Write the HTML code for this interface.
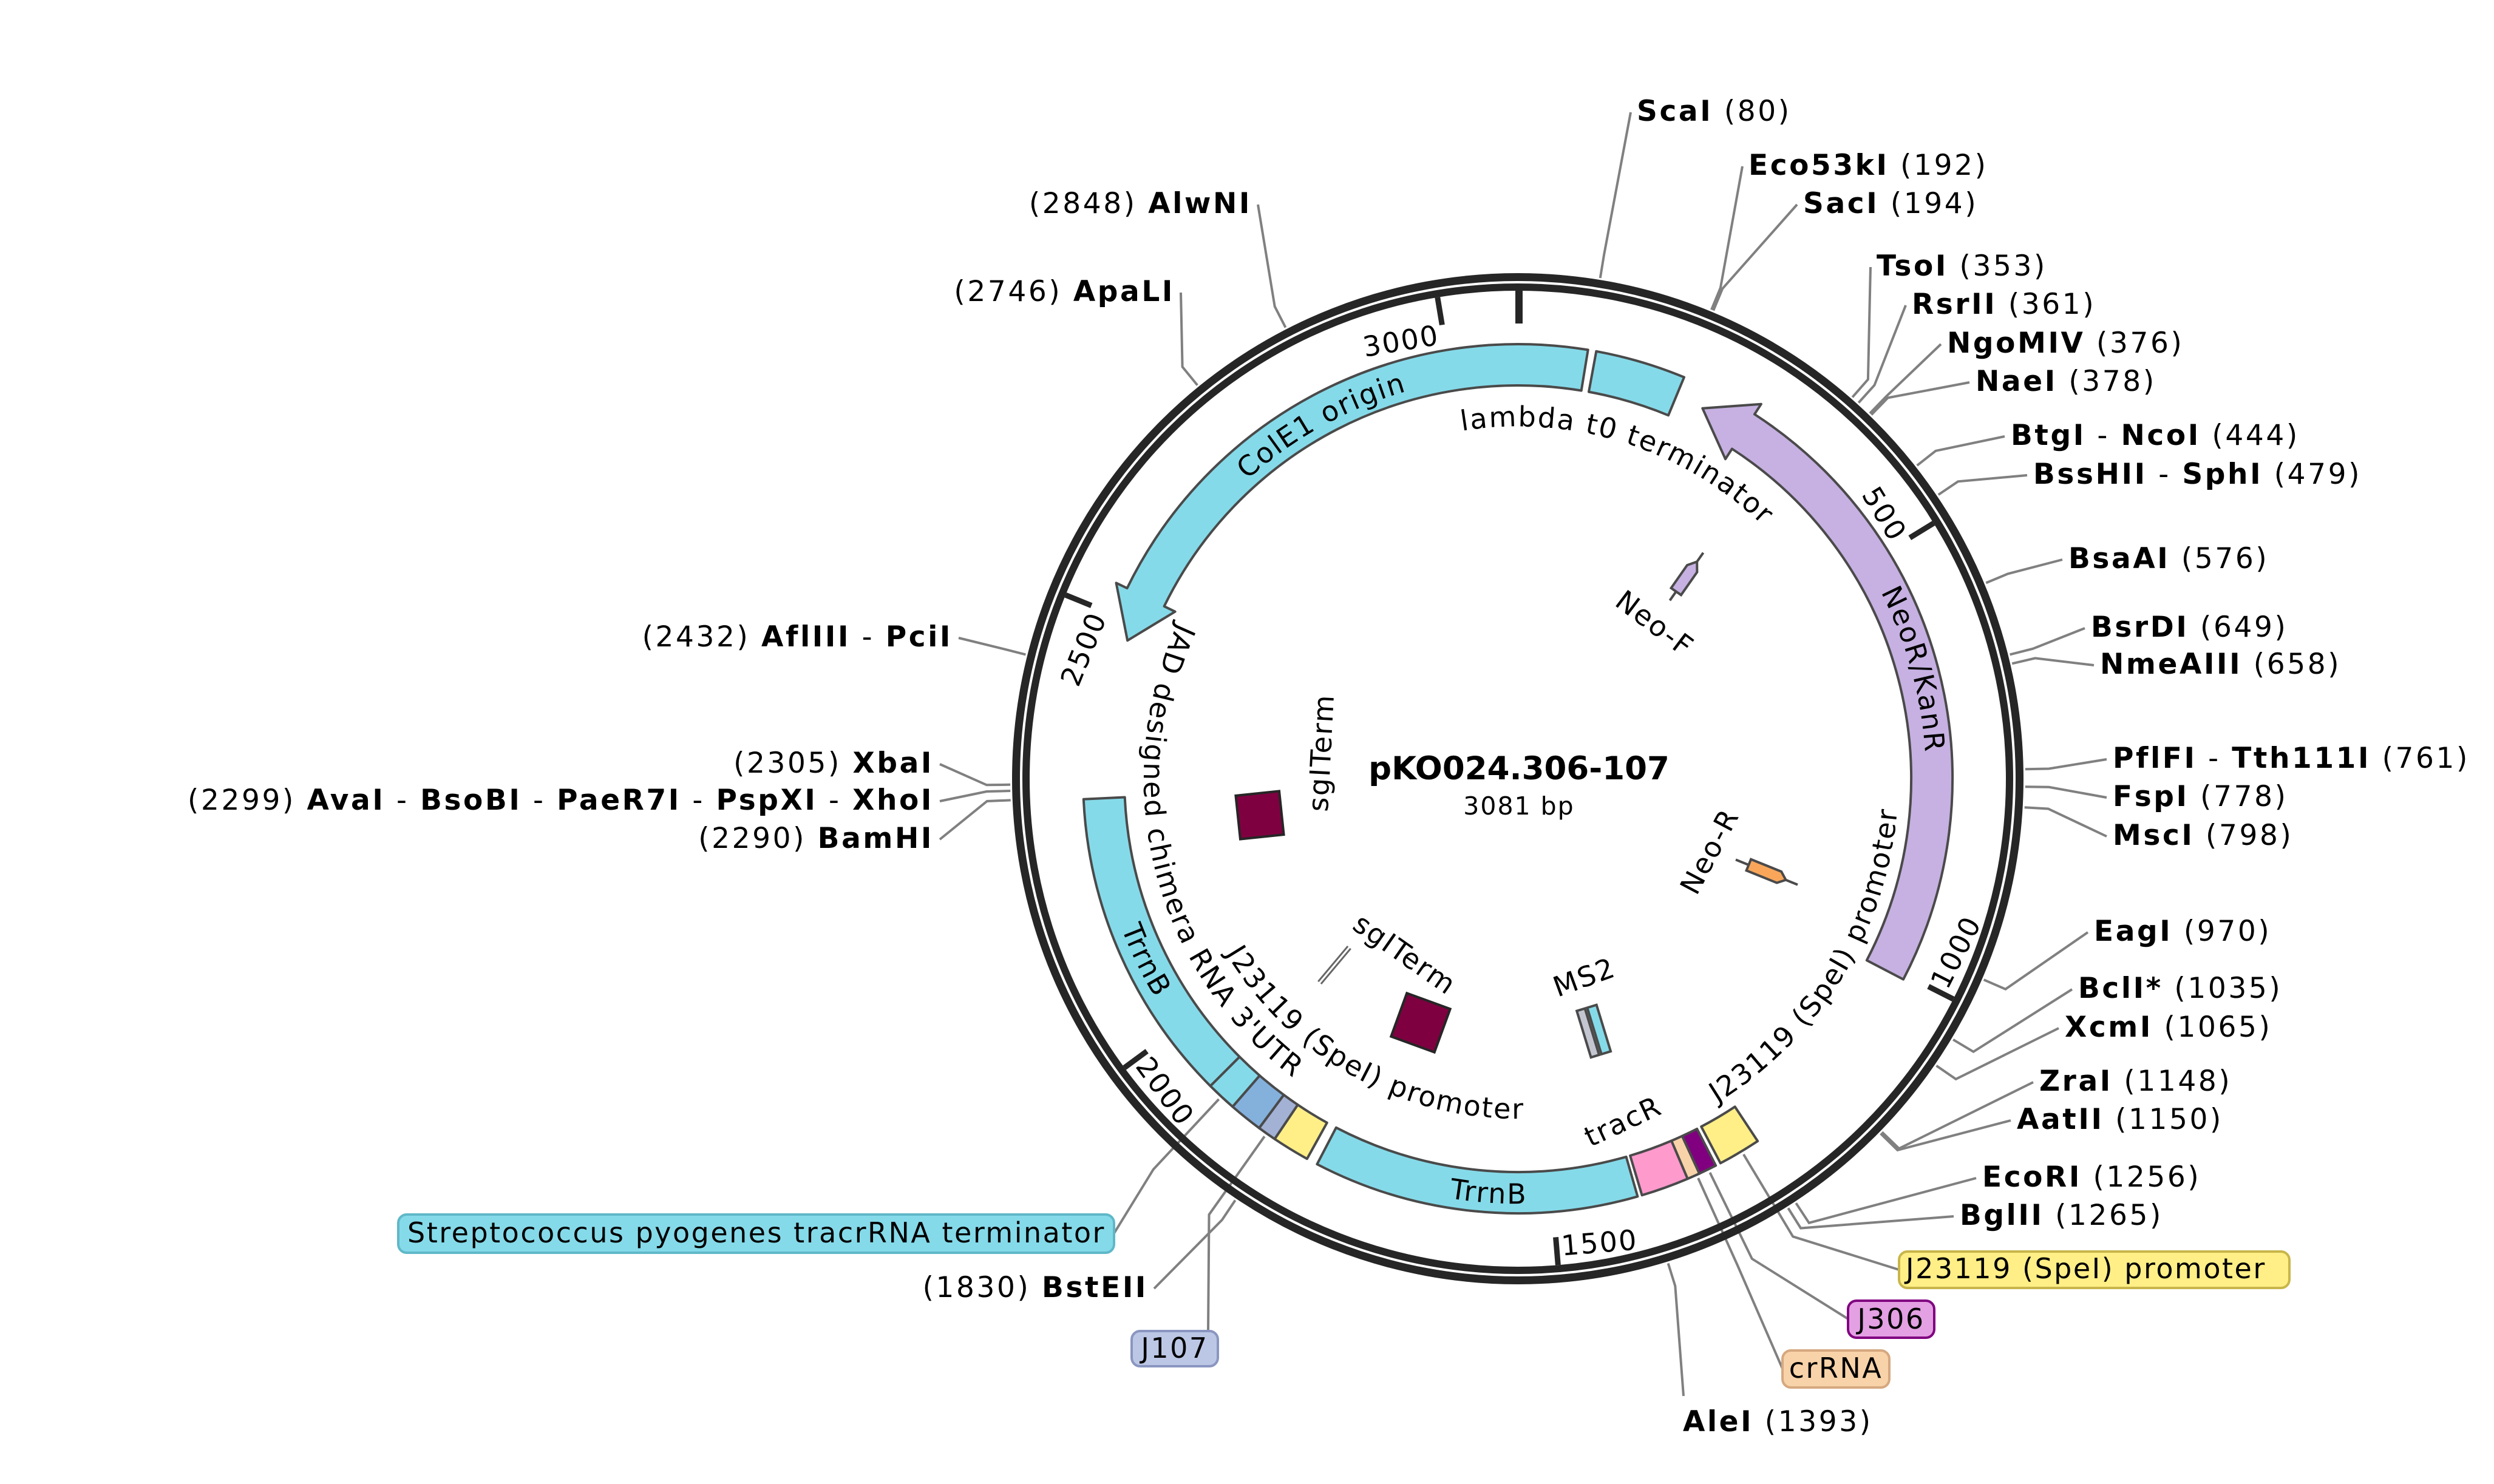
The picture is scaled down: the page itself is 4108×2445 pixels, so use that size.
<!DOCTYPE html>
<html><head><meta charset="utf-8">
<style>
html,body{margin:0;padding:0;background:#fff;}
svg{display:block;}
text{font-family:"DejaVu Sans","Liberation Sans",sans-serif;fill:#000;}
.s{font-size:47px;letter-spacing:3.6px;}
.bx{font-size:46px;letter-spacing:2.5px;}
.b{font-weight:bold;}
.f{font-size:46px;letter-spacing:2.3px;}
</style></head>
<body>
<svg id="m" xmlns="http://www.w3.org/2000/svg" width="4108" height="2445" viewBox="0 0 4108 2445">
<defs>
<path id="pCol"/><path id="pLam"/><path id="pNeo"/><path id="pJR"/><path id="pJAD"/><path id="pJI"/><path id="pTL"/><path id="pTB"/>
</defs>
<g id="leaders" stroke="#808080" stroke-width="4" fill="none"></g>
<circle cx="2500" cy="1283" r="826.5" fill="none" stroke="#262626" stroke-width="13"/>
<circle cx="2500" cy="1283" r="810" fill="none" stroke="#262626" stroke-width="12"/>
<g id="ticks" stroke="#262626"></g>
<g id="feat" stroke="#4a4a4a" stroke-width="4" stroke-linejoin="round"></g>

<g stroke="#4a4a4a" stroke-width="4">
<g transform="translate(2778,950) rotate(-55)">
<line x1="-48" y1="0" x2="48" y2="0"/>
<polygon points="-30,-10 16,-10 30,0 16,10 -30,10" fill="#c6b1e2"/>
</g>
<g transform="translate(2910,1437) rotate(22)">
<line x1="-55" y1="0" x2="55" y2="0"/>
<polygon points="-32,-10 22,-10 34,0 22,10 -32,10" fill="#f9a65a"/>
</g>
<rect x="-36" y="-36" width="72" height="72" fill="#7f0040" stroke="#262626" transform="translate(2075,1343) rotate(-6)"/>
<rect x="-38" y="-38" width="76" height="76" fill="#7f0040" stroke="#262626" transform="translate(2340,1685) rotate(20)"/>
<g transform="translate(2198,1590) rotate(-50)" stroke="#666" stroke-width="3">
<line x1="-38" y1="-3" x2="38" y2="-3"/><line x1="-38" y1="3" x2="38" y2="3"/>
</g>
<g transform="translate(2628,1698) rotate(-17)">
<rect x="-20" y="-40" width="14" height="80" fill="#c3c6d1"/>
<rect x="-2" y="-40" width="16" height="80" fill="#85dae9"/>
</g>
</g>

<g class="f">
<text id="t3000" text-anchor="end">3000</text>
<text id="t500" text-anchor="end">500</text>
<text id="t2500" text-anchor="end">2500</text>
<text id="t1000" text-anchor="start">1000</text>
<text id="t1500" text-anchor="start">1500</text>
<text id="t2000" text-anchor="start">2000</text>
</g>

<g class="f">
<text><textPath href="#pCol" startOffset="50%" text-anchor="middle">ColE1 origin</textPath></text>
<text><textPath href="#pLam" startOffset="50%" text-anchor="middle">lambda t0 terminator</textPath></text>
<text><textPath href="#pNeo" startOffset="50%" text-anchor="middle">NeoR/KanR</textPath></text>
<text><textPath href="#pJR" startOffset="50%" text-anchor="middle">J23119 (SpeI) promoter</textPath></text>
<text><textPath href="#pJAD" startOffset="50%" text-anchor="middle">JAD designed chimera RNA 3'UTR</textPath></text>
<text><textPath href="#pJI" startOffset="50%" text-anchor="middle">J23119 (SpeI) promoter</textPath></text>
<text><textPath href="#pTL" startOffset="50%" text-anchor="middle">TrrnB</textPath></text>
<text><textPath href="#pTB" startOffset="50%" text-anchor="middle">TrrnB</textPath></text>
</g>

<g class="f">
<text transform="translate(2716,1040) rotate(37)" text-anchor="middle">Neo-F</text>
<text transform="translate(2830,1410) rotate(-62)" text-anchor="middle">Neo-R</text>
<text transform="translate(2192,1241) rotate(-87)" text-anchor="middle">sgITerm</text>
<text transform="translate(2305,1585) rotate(35)" text-anchor="middle">sgITerm</text>
<text transform="translate(2615,1625) rotate(-20)" text-anchor="middle">MS2</text>
<text transform="translate(2680,1862) rotate(-25)" text-anchor="middle">tracR</text>
</g>
<text x="2502" y="1284" text-anchor="middle" class="b" style="font-size:53px">pKO024.306-107</text>
<text x="2502" y="1342" text-anchor="middle" style="font-size:41px;letter-spacing:2px">3081 bp</text>

<g class="s">
<text x="2696" y="199"><tspan class="b">ScaI</tspan><tspan>  (80)</tspan></text>
<text x="2880" y="288"><tspan class="b">Eco53kI</tspan><tspan>  (192)</tspan></text>
<text x="2970" y="351"><tspan class="b">SacI</tspan><tspan>  (194)</tspan></text>
<text x="3091" y="454"><tspan class="b">TsoI</tspan><tspan>  (353)</tspan></text>
<text x="3149" y="517"><tspan class="b">RsrII</tspan><tspan>  (361)</tspan></text>
<text x="3207" y="581"><tspan class="b">NgoMIV</tspan><tspan>  (376)</tspan></text>
<text x="3254" y="644"><tspan class="b">NaeI</tspan><tspan>  (378)</tspan></text>
<text x="3312" y="733"><tspan class="b">BtgI</tspan><tspan> - </tspan><tspan class="b">NcoI</tspan><tspan>  (444)</tspan></text>
<text x="3349" y="797"><tspan class="b">BssHII</tspan><tspan> - </tspan><tspan class="b">SphI</tspan><tspan>  (479)</tspan></text>
<text x="3407" y="936"><tspan class="b">BsaAI</tspan><tspan>  (576)</tspan></text>
<text x="3444" y="1049"><tspan class="b">BsrDI</tspan><tspan>  (649)</tspan></text>
<text x="3459" y="1110"><tspan class="b">NmeAIII</tspan><tspan>  (658)</tspan></text>
<text x="3480" y="1265"><tspan class="b">PflFI</tspan><tspan> - </tspan><tspan class="b">Tth111I</tspan><tspan>  (761)</tspan></text>
<text x="3480" y="1328"><tspan class="b">FspI</tspan><tspan>  (778)</tspan></text>
<text x="3480" y="1392"><tspan class="b">MscI</tspan><tspan>  (798)</tspan></text>
<text x="3449" y="1550"><tspan class="b">EagI</tspan><tspan>  (970)</tspan></text>
<text x="3423" y="1644"><tspan class="b">BclI*</tspan><tspan>  (1035)</tspan></text>
<text x="3401" y="1708"><tspan class="b">XcmI</tspan><tspan>  (1065)</tspan></text>
<text x="3359" y="1797"><tspan class="b">ZraI</tspan><tspan>  (1148)</tspan></text>
<text x="3322" y="1860"><tspan class="b">AatII</tspan><tspan>  (1150)</tspan></text>
<text x="3265" y="1955"><tspan class="b">EcoRI</tspan><tspan>  (1256)</tspan></text>
<text x="3228" y="2018"><tspan class="b">BglII</tspan><tspan>  (1265)</tspan></text>
<text x="2772" y="2358"><tspan class="b">AleI</tspan><tspan>  (1393)</tspan></text>
<text x="2062" y="351" text-anchor="end"><tspan>(2848)  </tspan><tspan class="b">AlwNI</tspan></text>
<text x="1935" y="496" text-anchor="end"><tspan>(2746)  </tspan><tspan class="b">ApaLI</tspan></text>
<text x="1569" y="1065" text-anchor="end"><tspan>(2432)  </tspan><tspan class="b">AflIII</tspan><tspan> - </tspan><tspan class="b">PciI</tspan></text>
<text x="1538" y="1273" text-anchor="end"><tspan>(2305)  </tspan><tspan class="b">XbaI</tspan></text>
<text x="1538" y="1334" text-anchor="end"><tspan>(2299)  </tspan><tspan class="b">AvaI</tspan><tspan> - </tspan><tspan class="b">BsoBI</tspan><tspan> - </tspan><tspan class="b">PaeR7I</tspan><tspan> - </tspan><tspan class="b">PspXI</tspan><tspan> - </tspan><tspan class="b">XhoI</tspan></text>
<text x="1538" y="1397" text-anchor="end"><tspan>(2290)  </tspan><tspan class="b">BamHI</tspan></text>
<text x="1891" y="2137" text-anchor="end"><tspan>(1830)  </tspan><tspan class="b">BstEII</tspan></text>
</g>

<rect x="656" y="2001" width="1179" height="63" rx="14" fill="#85dae9" stroke="#5fb8c8" stroke-width="4"/>
<text x="671" y="2047" class="bx">Streptococcus pyogenes tracrRNA terminator</text>
<rect x="1864" y="2193" width="142" height="58" rx="14" fill="#bcc7e6" stroke="#8a96c0" stroke-width="4"/>
<text x="1935" y="2237" class="bx" text-anchor="middle">J107</text>
<rect x="3128" y="2062" width="643" height="60" rx="14" fill="#ffef86" stroke="#c8b64a" stroke-width="4"/>
<text x="3139" y="2106" class="bx">J23119 (SpeI) promoter</text>
<rect x="3044" y="2143" width="142" height="61" rx="14" fill="#e3a0e3" stroke="#800080" stroke-width="4"/>
<text x="3115" y="2189" class="bx" text-anchor="middle">J306</text>
<rect x="2936" y="2225" width="176" height="61" rx="14" fill="#f8d3a9" stroke="#d6a880" stroke-width="4"/>
<text x="3024" y="2270" class="bx" text-anchor="middle">crRNA</text>
</svg>
<script>
(function(){
var NS="http://www.w3.org/2000/svg",cx=2500,cy=1283;
function P(r,a){var t=a*Math.PI/180;return [cx+r*Math.sin(t),cy-r*Math.cos(t)];}
function f(p){return p[0].toFixed(1)+","+p[1].toFixed(1);}
function el(par,tag,at){var e=document.createElementNS(NS,tag);for(var k in at)e.setAttribute(k,at[k]);document.getElementById(par).appendChild(e);return e;}
var R1=648,R2=716;
function box(a1,a2,fill){var la=(a2-a1)>180?1:0;
 var d="M"+f(P(R2,a1))+"A"+R2+","+R2+" 0 "+la+" 1 "+f(P(R2,a2))+"L"+f(P(R1,a2))+"A"+R1+","+R1+" 0 "+la+" 0 "+f(P(R1,a1))+"Z";
 el("feat","path",{d:d,fill:fill});}
function arrowCCW(tail,base,tip,fill){var ext=20,rm=(R1+R2)/2,la=(tail-base)>180?1:0;
 var d="M"+f(P(R2,tail))+"A"+R2+","+R2+" 0 "+la+" 0 "+f(P(R2,base))+"L"+f(P(R2+ext,base))+"L"+f(P(rm,tip))+"L"+f(P(R1-ext,base))+"L"+f(P(R1,base))+"A"+R1+","+R1+" 0 "+la+" 1 "+f(P(R1,tail))+"Z";
 el("feat","path",{d:d,fill:fill});}
arrowCCW(369.3,296,289.5,"#85dae9");
box(10.4,22.5,"#85dae9");
arrowCCW(117.5,33,26.5,"#c6b1e2");
box(225,267.3,"#85dae9");
box(221,225,"#85dae9");
box(216.5,221,"#84b0dc");
box(214,216.5,"#a3b1d5");
box(209,214,"#ffef86");
box(164,207.5,"#85dae9");
box(157,163.4,"#ff9acd");
box(155.3,157,"#f8d3a9");
box(152.9,155.3,"#800080");
box(146.5,152.2,"#ffef86");
el("ticks","line",{x1:2502,y1:cy-804,x2:2502,y2:cy-750,"stroke-width":12});
[500,1000,1500,2000,2500,3000].forEach(function(b){var a=b*360/3081,p1=P(804,a),p2=P(758,a);
 el("ticks","line",{x1:p1[0],y1:p1[1],x2:p2[0],y2:p2[1],"stroke-width":9});
 var t=document.getElementById("t"+b);
 if(a<90||a>270){t.setAttribute("x",cx-8);t.setAttribute("y",cy-727);t.setAttribute("transform","rotate("+a.toFixed(2)+" "+cx+" "+cy+")");}
 else{t.setAttribute("x",cx+8);t.setAttribute("y",cy+789);t.setAttribute("transform","rotate("+(a-180).toFixed(2)+" "+cx+" "+cy+")");}
});
function cw(id,r,ac,sp){document.getElementById(id).setAttribute("d","M"+f(P(r,ac-sp))+"A"+r+","+r+" 0 0 1 "+f(P(r,ac+sp)));}
function ccw(id,r,ac,sp){document.getElementById(id).setAttribute("d","M"+f(P(r,ac+sp))+"A"+r+","+r+" 0 0 0 "+f(P(r,ac-sp)));}
cw("pCol",664,331,85);
cw("pLam",580,17.5,85);
cw("pNeo",672,74.6,85);
ccw("pJR",627,121.5,85);
ccw("pJAD",616,255.7,85);
ccw("pJI",560,209,85);
ccw("pTL",698,244,85);
ccw("pTB",700,184,85);
var sites=[[80,2686,185],[192,2870,274],[194,2960,337],[353,3081,440],[361,3139,503],[376,3197,567],[378,3244,630],[444,3302,719],[479,3339,783],[576,3397,922],[649,3434,1035],[658,3449,1096],[761,3470,1251],[778,3470,1314],[798,3470,1378],[970,3439,1536],[1035,3413,1630],[1065,3391,1694],[1148,3349,1783],[1150,3312,1846],[1256,3255,1941],[1265,3218,2004],[1393,2773,2300],[2848,2072,337],[2746,1945,482],[2432,1579,1051],[2305,1548,1259],[2299,1548,1320],[2290,1548,1383],[1830,1901,2123]];
sites.forEach(function(s){var a=s[0]*360/3081,p1=P(836,a),p2=P(875,a);
 el("leaders","polyline",{points:f(p1)+" "+f(p2)+" "+s[1]+","+s[2]});});
var feats=[[223,1835,2032],[215.3,1990,2193],[149,3128,2092],[154,3044,2173],[155.7,2936,2255]];
feats.forEach(function(s){var p1=P(722,s[0]),p2=P(880,s[0]);
 el("leaders","polyline",{points:f(p1)+" "+f(p2)+" "+s[1]+","+s[2]});});
})();
</script>
</body></html>
